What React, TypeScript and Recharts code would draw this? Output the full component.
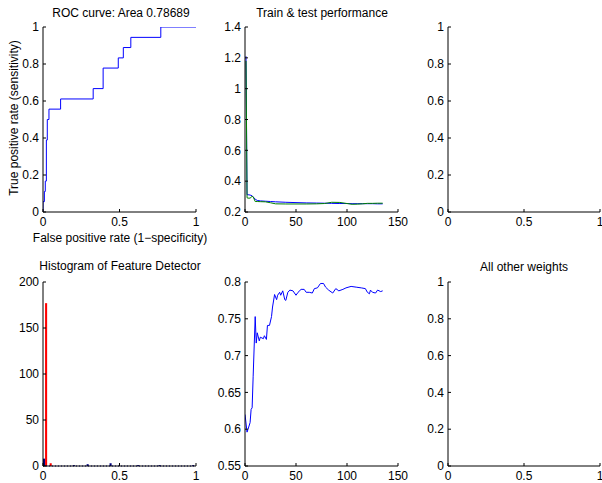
import React from "react";
import {
  LineChart,
  Line,
  BarChart,
  Bar,
  XAxis,
  YAxis,
  ReferenceLine,
} from "recharts";

// ROC curve points (vertical rises happen at each fpr value)
const rocFpr = [0, 0, 0.009, 0.015, 0.022, 0.028, 0.039, 0.115, 0.328, 0.393, 0.492, 0.525, 0.574, 0.77, 1];
const rocTpr = [0, 0.056, 0.111, 0.167, 0.389, 0.5, 0.556, 0.611, 0.667, 0.778, 0.833, 0.889, 0.944, 1, 1];

// train & test performance per epoch
const perfEpochs = [1, 2, 3, 5, 7, 8, 10, 12, 15, 20, 25, 30, 40, 50, 60, 70, 78, 85, 93, 100, 105, 110, 115, 120, 125, 130, 135];
const trainPerf = [1.21, 0.312, 0.312, 0.31, 0.305, 0.298, 0.283, 0.275, 0.272, 0.27, 0.268, 0.266, 0.263, 0.261, 0.259, 0.258, 0.257, 0.256, 0.255, 0.255, 0.254, 0.254, 0.254, 0.254, 0.254, 0.253, 0.253];
const testPerf = [1.18, 0.292, 0.29, 0.29, 0.302, 0.298, 0.268, 0.268, 0.267, 0.266, 0.26, 0.253, 0.252, 0.252, 0.252, 0.253, 0.255, 0.263, 0.262, 0.255, 0.25, 0.251, 0.253, 0.256, 0.256, 0.257, 0.257];

// histogram of feature detector
const binCenters = [0.015, 0.045, 0.21, 0.3, 0.45, 0.63, 0.77, 0.99];
const detectorCounts = [8, 0, 1, 2, 3, 1, 1, 1];
const otherCounts = [177, 3, 0, 0, 0, 0, 0, 0];

// accuracy per epoch
const accEpochs = [0, 2, 3, 5, 6, 7, 8, 10, 11, 12, 14, 15, 18, 19, 21, 22, 24, 26, 27, 29, 31, 32, 34, 35, 37, 39, 40, 42, 44, 47, 50, 52, 55, 58, 60, 63, 66, 68, 71, 74, 77, 79, 82, 86, 89, 92, 96, 99, 104, 109, 114, 118, 120, 122, 123, 125, 128, 130, 133, 135];
const accuracy = [0.62, 0.596, 0.6, 0.609, 0.627, 0.629, 0.672, 0.753, 0.717, 0.731, 0.72, 0.725, 0.723, 0.727, 0.722, 0.741, 0.741, 0.753, 0.766, 0.783, 0.776, 0.782, 0.786, 0.782, 0.788, 0.776, 0.775, 0.786, 0.789, 0.788, 0.782, 0.786, 0.79, 0.79, 0.786, 0.786, 0.785, 0.791, 0.792, 0.798, 0.798, 0.793, 0.789, 0.785, 0.791, 0.788, 0.79, 0.792, 0.794, 0.793, 0.792, 0.791, 0.786, 0.784, 0.789, 0.786, 0.785, 0.789, 0.787, 0.788];

const unitTicks = [0, 0.5, 1];
const fifthTicks = [0, 0.2, 0.4, 0.6, 0.8, 1];
const epochTicks = [0, 50, 100, 150];
const perfTicks = [0.2, 0.4, 0.6, 0.8, 1, 1.2, 1.4];
const countTicks = [0, 50, 100, 150, 200];
const accTicks = [0.55, 0.6, 0.65, 0.7, 0.75, 0.8];

const rocRows = rocFpr.map((x, i) => ({ x, y: rocTpr[i] }));
const perfRows = perfEpochs.map((x, i) => ({ x, train: trainPerf[i], test: testPerf[i] }));
const histRows = binCenters.map((x, i) => ({ x, det: detectorCounts[i], other: otherCounts[i] }));
const accRows = accEpochs.map((x, i) => ({ x, y: accuracy[i] }));

const FONT = "'Liberation Sans', Arial, Helvetica, sans-serif";
const tickStyle = { fill: "#000", fontSize: 12, fontFamily: FONT };
const lineStyle = { stroke: "#000", strokeWidth: 1 };
const blank = () => "";

// bottom/left axes with labels plus (optionally) top/right box axes, MATLAB style inward ticks
const axes = (xDomain: number[], xTicks: number[], yDomain: number[], yTicks: number[], yWidth: number, box: boolean) => {
  const common = { type: "number" as const, tickSize: -3, axisLine: lineStyle, tickLine: lineStyle, tick: tickStyle, allowDataOverflow: true, interval: 0 as const };
  const list = [
    <XAxis key="xb" xAxisId="b" dataKey="x" domain={xDomain} ticks={xTicks} height={33} tickMargin={8} {...common} />,
    <YAxis key="yl" yAxisId="l" domain={yDomain} ticks={yTicks} width={yWidth} tickMargin={7} {...common} />,
  ];
  if (box) {
    list.push(
      <XAxis key="xt" xAxisId="t" dataKey="x" orientation="top" domain={xDomain} ticks={xTicks} height={0} tickFormatter={blank} {...common} />,
      <YAxis key="yr" yAxisId="r" orientation="right" domain={yDomain} ticks={yTicks} width={0} tickFormatter={blank} {...common} />
    );
  }
  return list;
};

const Title: React.FC<{ x: number; y: number; text: string }> = ({ x, y, text }) => (
  <div
    style={{
      position: "absolute",
      left: x,
      top: y,
      transform: "translate(-50%, -50%)",
      whiteSpace: "nowrap",
      fontFamily: FONT,
      fontSize: 12,
      color: "#000",
    }}
  >
    {text}
  </div>
);

const App: React.FC = () => {
  return (
    <div style={{ position: "absolute", left: 0, top: 0, width: 602, height: 483, background: "#fff", overflow: "hidden" }}>
      <div style={{ position: "absolute", left: 0, top: 0 }}>
        <LineChart width={200} height={245} data={rocRows} margin={{ top: 27, right: 4, left: 0, bottom: 0 }}>
          {axes([0, 1], unitTicks, [0, 1], fifthTicks, 43, true)}
          <Line xAxisId="b" yAxisId="l" dataKey="y" type="stepAfter" stroke="#0000ff" strokeWidth={1} dot={false} activeDot={false} isAnimationActive={false} />
        </LineChart>
      </div>
      <div style={{ position: "absolute", left: 200, top: 0 }}>
        <LineChart width={222} height={245} data={perfRows} margin={{ top: 27, right: 24, left: 0, bottom: 0 }}>
          {axes([0, 150], epochTicks, [0.2, 1.4], perfTicks, 45, true)}
          <Line xAxisId="b" yAxisId="l" dataKey="train" type="linear" stroke="#0000ff" strokeWidth={1} dot={false} activeDot={false} isAnimationActive={false} />
          <Line xAxisId="b" yAxisId="l" dataKey="test" type="linear" stroke="#008000" strokeWidth={1} dot={false} activeDot={false} isAnimationActive={false} />
        </LineChart>
      </div>
      <div style={{ position: "absolute", left: 402, top: 0 }}>
        <LineChart width={200} height={245} data={[]} margin={{ top: 27, right: 2, left: 0, bottom: 0 }}>
          {axes([0, 1], unitTicks, [0, 1], fifthTicks, 46, false)}
        </LineChart>
      </div>

      <div style={{ position: "absolute", left: 0, top: 255 }}>
        <BarChart width={200} height={244} data={histRows} margin={{ top: 27, right: 4, left: 0, bottom: 0 }} barGap={0}>
          {axes([0, 1], unitTicks, [0, 200], countTicks, 43, true)}
          <ReferenceLine xAxisId="b" yAxisId="l" y={0} stroke="#00007f" strokeDasharray="1 2" />
          <Bar xAxisId="b" yAxisId="l" dataKey="det" fill="#00007f" barSize={3} isAnimationActive={false} />
          <Bar xAxisId="b" yAxisId="l" dataKey="other" fill="#ff0000" barSize={3} isAnimationActive={false} />
        </BarChart>
      </div>
      <div style={{ position: "absolute", left: 200, top: 255 }}>
        <LineChart width={222} height={244} data={accRows} margin={{ top: 27, right: 24, left: 0, bottom: 0 }}>
          {axes([0, 150], epochTicks, [0.55, 0.8], accTicks, 45, true)}
          <Line xAxisId="b" yAxisId="l" dataKey="y" type="linear" stroke="#0000ff" strokeWidth={1} dot={false} activeDot={false} isAnimationActive={false} />
        </LineChart>
      </div>
      <div style={{ position: "absolute", left: 402, top: 255 }}>
        <LineChart width={200} height={244} data={[]} margin={{ top: 27, right: 2, left: 0, bottom: 0 }}>
          {axes([0, 1], unitTicks, [0, 1], fifthTicks, 46, false)}
        </LineChart>
      </div>

      <Title x={121} y={13} text="ROC curve: Area 0.78689" />
      <Title x={322} y={13} text="Train & test performance" />
      <Title x={120} y={238} text="False positive rate (1−specificity)" />
      <div
        style={{
          position: "absolute",
          left: 14,
          top: 118,
          transform: "translate(-50%, -50%) rotate(-90deg)",
          whiteSpace: "nowrap",
          fontFamily: FONT,
          fontSize: 12,
          color: "#000",
        }}
      >
        True positive rate (sensitivity)
      </div>
      <Title x={120} y={266} text="Histogram of Feature Detector" />
      <Title x={524} y={267} text="All other weights" />
    </div>
  );
};

export default App;
